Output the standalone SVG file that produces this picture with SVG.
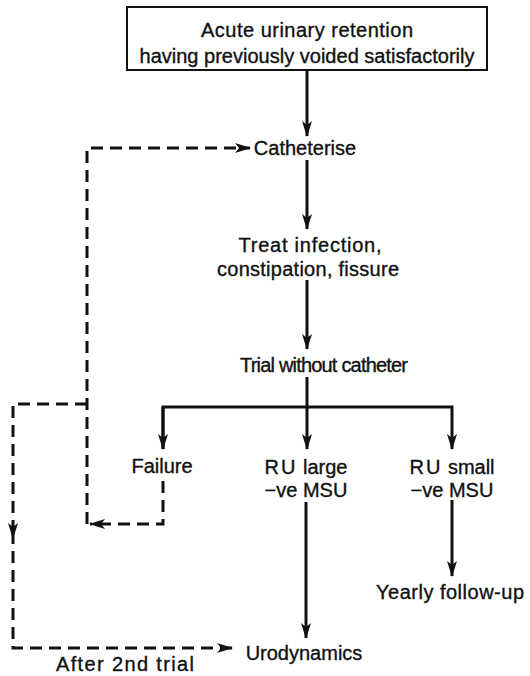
<svg xmlns="http://www.w3.org/2000/svg" width="530" height="676" viewBox="0 0 530 676">
  <style>
    text { font-family: "Liberation Sans", Arial, sans-serif; font-size: 20px; fill: #111; stroke: #111; stroke-width: 0.35; text-anchor: middle; }
    .solid { fill: none; stroke: #111; stroke-width: 3; }
    .dash { fill: none; stroke: #111; stroke-width: 3; stroke-dasharray: 12 7; }
    .box { fill: #fff; stroke: #111; stroke-width: 2; }
  </style>
  <defs>
    <marker id="arrow" viewBox="0 0 16 10" refX="15" refY="5" markerWidth="16" markerHeight="10" markerUnits="userSpaceOnUse" orient="auto">
      <path d="M0,0 L16,5 L0,10 L4,5 Z" fill="#111"/>
    </marker>
  </defs>
  <rect width="530" height="676" fill="#fff"/>

  <g id="connectors">
    <!-- main chain -->
    <line class="solid" x1="307" y1="70" x2="307" y2="136" marker-end="url(#arrow)"/>
    <line class="solid" x1="307" y1="160" x2="307" y2="229" marker-end="url(#arrow)"/>
    <line class="solid" x1="307" y1="280" x2="307" y2="349" marker-end="url(#arrow)"/>
    <line class="solid" x1="307" y1="377" x2="307" y2="407"/>
    <!-- branch bar and its three drops -->
    <polyline class="solid" points="163,449 163,407 452,407 452,449" marker-end="url(#arrow)"/>
    <line class="solid" x1="163" y1="407" x2="163" y2="449" marker-end="url(#arrow)"/>
    <line class="solid" x1="307" y1="407" x2="307" y2="449" marker-end="url(#arrow)"/>
    <line class="solid" x1="306" y1="502" x2="306" y2="638" marker-end="url(#arrow)"/>
    <line class="solid" x1="452" y1="500" x2="452" y2="576" marker-end="url(#arrow)"/>
    <!-- failure loops back to catheterise -->
    <polyline class="dash" points="163,481 163,524 90,524" marker-end="url(#arrow)"/>
    <polyline class="dash" points="87,524 87,148 250,148" marker-end="url(#arrow)"/>
    <!-- after the second trial -->
    <polyline class="dash" points="87,404 13,404 13,538" marker-end="url(#arrow)"/>
    <polyline class="dash" points="13,532 13,648 232,648" marker-end="url(#arrow)"/>
  </g>

  <g id="start">
    <rect class="box" x="127" y="7" width="360" height="63"/>
    <text x="307" y="37" textLength="212">Acute urinary retention</text>
    <text x="307" y="63" textLength="335">having previously voided satisfactorily</text>
  </g>
  <g id="catheterise"><text x="305" y="155">Catheterise</text></g>
  <g id="treat">
    <text x="310" y="252" textLength="143">Treat infection,</text>
    <text x="308" y="276" textLength="182">constipation, fissure</text>
  </g>
  <g id="trial"><text x="324" y="372" textLength="168">Trial without catheter</text></g>
  <g id="failure"><text x="162" y="473">Failure</text></g>
  <g id="ru-large">
    <text x="306" y="474"><tspan letter-spacing="2">RU</tspan> large</text>
    <text x="306" y="497">−ve MSU</text>
  </g>
  <g id="ru-small">
    <text x="452" y="474"><tspan letter-spacing="2">RU</tspan> small</text>
    <text x="452" y="497">−ve MSU</text>
  </g>
  <g id="yearly"><text x="450" y="599" textLength="148">Yearly follow-up</text></g>
  <g id="urodynamics"><text x="304" y="660">Urodynamics</text></g>
  <g id="after-trial"><text x="125" y="671" textLength="138">After 2nd trial</text></g>
</svg>
